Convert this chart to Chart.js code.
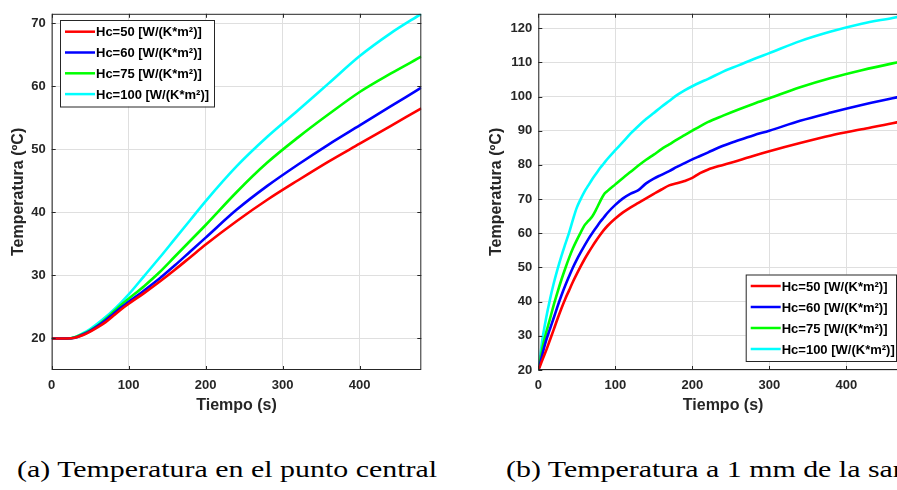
<!DOCTYPE html>
<html>
<head>
<meta charset="utf-8">
<script src="https://cdn.jsdelivr.net/npm/chart.js@4/dist/chart.umd.min.js"></script>
<style>
  html, body { margin: 0; padding: 0; width: 897px; height: 490px; overflow: hidden; background: #fff; }
  canvas { position: absolute; top: 0; }
  #c1 { left: 0; }
  #c2 { left: 450px; }
  .cap { position: absolute; top: 459px; font-family: "Liberation Serif", serif; font-size: 22.5px; line-height: 1; white-space: nowrap; color: #000; transform-origin: left top; }
</style>
</head>
<body>
<canvas id="c1" width="440" height="420"></canvas>
<canvas id="c2" width="500" height="420"></canvas>
<div class="cap" id="capA" style="left:17px">(a) Temperatura en el punto central</div>
<div class="cap" id="capB" style="left:506px">(b) Temperatura a 1 mm de la sartén</div>
<script>
// series labels and colours
var seriesLabels = ['Hc=50 [W/(K*m²)]', 'Hc=60 [W/(K*m²)]', 'Hc=75 [W/(K*m²)]', 'Hc=100 [W/(K*m²)]'];
var seriesColors = ['#ff0000', '#0000ff', '#00ff00', '#00ffff'];

// (a) centre point
var tA = [0, 10, 20, 30, 40, 50, 60, 70, 80, 90, 100, 120, 140, 160, 180, 200, 240, 280, 320, 360, 400, 440, 480];
var a50  = [20, 20, 20, 20.1, 20.5, 21.1, 21.8, 22.6, 23.6, 24.6, 25.5, 27.2, 29.0, 30.9, 32.9, 34.9, 38.6, 42.0, 45.1, 48.1, 50.9, 53.7, 56.5];
var a60  = [20, 20, 20, 20.1, 20.6, 21.2, 22.0, 22.9, 23.9, 24.9, 25.8, 27.6, 29.5, 31.6, 33.8, 36.0, 40.4, 44.2, 47.6, 50.8, 53.8, 56.8, 59.8];
var a75  = [20, 20, 20, 20.2, 20.7, 21.3, 22.1, 23.1, 24.2, 25.3, 26.3, 28.3, 30.5, 33.0, 35.5, 38.0, 43.2, 47.9, 51.9, 55.6, 59.1, 62.0, 64.7];
var a100 = [20, 20, 20, 20.2, 20.8, 21.5, 22.4, 23.4, 24.5, 25.7, 27.0, 29.9, 32.8, 35.8, 38.8, 41.8, 47.3, 52.0, 56.2, 60.5, 64.8, 68.4, 71.5];

// (b) 1 mm from the pan
var tB = [0, 2, 5, 10, 15, 20, 25, 30, 35, 40, 45, 50, 55, 60, 65, 70, 75, 80, 85, 90,
          100, 110, 120, 130, 140, 150, 160, 170, 180, 190, 200, 210, 220, 240, 260, 280, 300, 340, 380, 420, 460, 480];
var b50  = [20, 21.0, 22.8, 25.6, 28.7, 31.8, 35.0, 38.0, 40.8, 43.3, 45.8, 48.1, 50.3, 52.4, 54.3, 56.1, 57.8, 59.4, 60.9, 62.2,
            64.3, 66.1, 67.6, 68.9, 70.2, 71.5, 72.8, 74.0, 74.6, 75.3, 76.2, 77.6, 78.6, 80.0, 81.3, 82.7, 84.0, 86.4, 88.6, 90.4, 92.2, 93.0];
var b60  = [20, 21.5, 24.3, 28.5, 31.9, 35.2, 38.6, 41.8, 44.7, 47.4, 50.0, 52.3, 54.4, 56.4, 58.3, 60.0, 61.6, 63.2, 64.6, 66.0,
            68.3, 70.2, 71.6, 72.6, 74.6, 76.0, 77.1, 78.2, 79.4, 80.5, 81.6, 82.6, 83.6, 85.6, 87.2, 88.7, 90.0, 92.9, 95.3, 97.5, 99.5, 100.3];
var b75  = [20, 22.0, 26.0, 30.8, 34.8, 39.0, 42.8, 46.4, 49.7, 52.8, 55.6, 58.0, 60.2, 62.3, 63.6, 64.9, 66.9, 69.2, 71.3, 72.4,
            74.3, 76.2, 78.0, 79.8, 81.5, 83.0, 84.6, 86.0, 87.4, 88.7, 90.0, 91.3, 92.5, 94.4, 96.2, 97.9, 99.5, 102.7, 105.4, 107.7, 109.7, 110.6];
var b100 = [20, 23.0, 28.5, 35.0, 40.5, 45.3, 49.5, 53.3, 56.8, 60.2, 64.0, 67.5, 70.0, 72.2, 74.0, 75.8, 77.4, 79.0, 80.4, 81.8,
            84.3, 86.7, 89.2, 91.4, 93.4, 95.2, 97.0, 98.7, 100.4, 101.8, 103.0, 104.1, 105.1, 107.3, 109.1, 111.0, 112.7, 116.2, 119.0, 121.3, 123.0, 123.9];

// tick values
var xTicks = [0, 100, 200, 300, 400];
var yTicksA = [20, 30, 40, 50, 60, 70];
var yTicksB = [20, 30, 40, 50, 60, 70, 80, 90, 100, 110, 120];

var axisColor = '#262626';
var gridColor = '#dfdfdf';
var tickFont = { family: '"Liberation Sans", Arial, sans-serif', size: 13, weight: 'bold' };
var titleFont = { family: '"Liberation Sans", Arial, sans-serif', size: 16, weight: 'bold' };

// box around the plot with inward tick marks (MATLAB style)
var frame = {
    id: 'frame',
    afterDatasetsDraw: function (chart) {
        var ctx = chart.ctx, a = chart.chartArea, sx = chart.scales.x, sy = chart.scales.y;
        ctx.save();
        ctx.strokeStyle = axisColor;
        ctx.lineWidth = 1;
        ctx.strokeRect(a.left + 0.5, a.top + 0.5, a.right - a.left - 1, a.bottom - a.top - 1);
        ctx.beginPath();
        sx.ticks.forEach(function (t) {
            var p = Math.round(sx.getPixelForValue(t.value)) + 0.5;
            ctx.moveTo(p, a.bottom); ctx.lineTo(p, a.bottom - 4);
            ctx.moveTo(p, a.top); ctx.lineTo(p, a.top + 4);
        });
        sy.ticks.forEach(function (t) {
            var p = Math.round(sy.getPixelForValue(t.value)) + 0.5;
            ctx.moveTo(a.left, p); ctx.lineTo(a.left + 4, p);
            ctx.moveTo(a.right, p); ctx.lineTo(a.right - 4, p);
        });
        ctx.stroke();
        ctx.restore();
    }
};

// legend drawn in a box inside the plot
var boxLegend = {
    id: 'boxLegend',
    afterDraw: function (chart, args, o) {
        var ctx = chart.ctx;
        ctx.save();
        ctx.fillStyle = '#fff';
        ctx.fillRect(o.x, o.y, o.w, o.h);
        ctx.strokeStyle = axisColor;
        ctx.lineWidth = 1;
        ctx.strokeRect(o.x + 0.5, o.y + 0.5, o.w, o.h);
        ctx.font = 'bold 13px "Liberation Sans", Arial, sans-serif';
        ctx.textBaseline = 'middle';
        chart.data.datasets.forEach(function (ds, i) {
            var yy = o.y + o.first + i * o.gap;
            ctx.strokeStyle = ds.borderColor;
            ctx.lineWidth = 2.5;
            ctx.beginPath();
            ctx.moveTo(o.x + 5, yy); ctx.lineTo(o.x + 35, yy);
            ctx.stroke();
            ctx.fillStyle = '#000';
            ctx.fillText(ds.label, o.x + 36, yy + 1);
        });
        ctx.restore();
    }
};

function makeSets(t, arrs) {
    return arrs.map(function (arr, i) {
        return {
            label: seriesLabels[i],
            data: t.map(function (x, j) { return { x: x, y: arr[j] }; }),
            borderColor: seriesColors[i],
            backgroundColor: seriesColors[i],
            borderWidth: 2.6,
            pointRadius: 0,
            cubicInterpolationMode: 'monotone',
            fill: false
        };
    });
}

function makeChart(id, t, arrs, yMin, yMax, yTicks, yWidth, yTitlePad, pad, legendBox) {
    var ctx = document.getElementById(id).getContext('2d');
    return new Chart(ctx, {
        type: 'line',
        data: { datasets: makeSets(t, arrs) },
        options: {
            responsive: false,
            animation: false,
            devicePixelRatio: 1,
            layout: { padding: pad },
            plugins: {
                legend: { display: false },
                tooltip: { enabled: false },
                boxLegend: legendBox
            },
            scales: {
                x: {
                    type: 'linear',
                    min: 0, max: 480,
                    afterBuildTicks: function (s) { s.ticks = xTicks.map(function (v) { return { value: v }; }); },
                    afterFit: function (s) { s.height = 50; },
                    grid: { color: gridColor, drawTicks: false },
                    border: { display: false },
                    ticks: { color: axisColor, font: tickFont, padding: 8, maxRotation: 0 },
                    title: { display: true, text: 'Tiempo (s)', color: axisColor, font: titleFont, padding: { top: 5, bottom: 5 } }
                },
                y: {
                    type: 'linear',
                    min: yMin, max: yMax,
                    afterBuildTicks: function (s) { s.ticks = yTicks.map(function (v) { return { value: v }; }); },
                    afterFit: function (s) { s.width = yWidth; },
                    grid: { color: gridColor, drawTicks: false },
                    border: { display: false },
                    ticks: { color: axisColor, font: tickFont, padding: 6 },
                    title: { display: true, text: 'Temperatura (ºC)', color: axisColor, font: titleFont, padding: { top: yTitlePad, bottom: 0 } }
                }
            }
        },
        plugins: [frame, boxLegend]
    });
}

makeChart('c1', tA, [a50, a60, a75, a100], 15, 71.5, yTicksA, 51.7, 9,
    { left: 0, top: 10.7, right: 18.7, bottom: 0 },
    { x: 60, y: 20, w: 154, h: 86.5, first: 11.7, gap: 20.8 });

makeChart('c2', tB, [b50, b60, b75, b100], 20, 124.2, yTicksB, 88.3, 37,
    { left: 0, top: 10.3, right: 42.1, bottom: 0 },
    { x: 295.7, y: 274.5, w: 150.3, h: 86.5, first: 11.5, gap: 21 });

// fit caption width to the reference
var capA = document.getElementById('capA');
var capB = document.getElementById('capB');
var k = 420 / capA.getBoundingClientRect().width;
capA.style.transform = 'scaleX(' + k + ')';
capB.style.transform = 'scaleX(' + k + ')';
</script>
</body>
</html>
